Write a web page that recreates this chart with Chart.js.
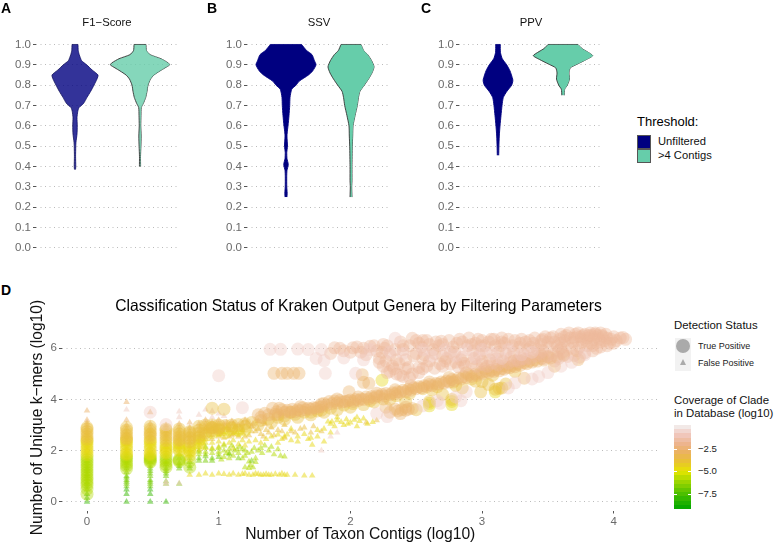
<!DOCTYPE html>
<html>
<head>
<meta charset="utf-8">
<script src="https://cdn.jsdelivr.net/npm/chart.js@4"></script>
<style>
  html, body { margin: 0; padding: 0; background: #fff; }
  body { position: relative; width: 776px; height: 543px; overflow: hidden; font-family: "Liberation Sans", sans-serif; color: #000; }
  canvas { position: absolute; }
  .t { position: absolute; white-space: nowrap; line-height: 1; }
  .letter { font-weight: bold; font-size: 14px; }
  .sub { font-size: 11.3px; transform: translateX(-50%); color: #111; }
  .swatch { position: absolute; box-sizing: border-box; border: 1px solid #555; width: 14px; height: 14px; left: 637px; }
  .key { position: absolute; left: 675px; width: 16px; height: 16.5px; background: #f2f2f2; }
  #colorbar { position: absolute; left: 674px; top: 425px; width: 17px; height: 84px; }
  .barTick { position: absolute; left: 674px; width: 17px; height: 1px; background: linear-gradient(to right, #fff 3px, transparent 3px, transparent 14px, #fff 14px); }
</style>
</head>
<body>
<canvas id="panelA"></canvas>
<canvas id="panelB"></canvas>
<canvas id="panelC"></canvas>
<canvas id="panelD"></canvas>

<div class="t letter" style="left:1px;top:1px">A</div>
<div class="t letter" style="left:207px;top:1px">B</div>
<div class="t letter" style="left:421px;top:1px">C</div>
<div class="t letter" style="left:1px;top:283px">D</div>
<div class="t sub" style="left:107px;top:17px">F1−Score</div>
<div class="t sub" style="left:319px;top:17px">SSV</div>
<div class="t sub" style="left:531px;top:17px">PPV</div>

<div class="t" style="left:637px;top:115px;font-size:13px">Threshold:</div>
<div class="swatch" style="top:135px;background:#000080"></div>
<div class="swatch" style="top:149px;background:#66cdaa"></div>
<div class="t" style="left:658px;top:136px;font-size:11.2px;color:#111">Unfiltered</div>
<div class="t" style="left:658px;top:150px;font-size:11.2px;color:#111">&gt;4 Contigs</div>

<div class="t" style="left:358.500px;top:298px;font-size:15.66px;transform:translateX(-50%)">Classification Status of Kraken Output Genera by Filtering Parameters</div>

<div class="t" style="left:674px;top:320px;font-size:11.4px;color:#111">Detection Status</div>
<div class="key" style="top:338px"></div>
<div class="key" style="top:354.5px"></div>
<div style="position:absolute;left:676px;top:339px;width:14px;height:14px;border-radius:50%;background:#aaa"></div>
<div style="position:absolute;left:680px;top:359px;width:0;height:0;border-left:3.5px solid transparent;border-right:3.5px solid transparent;border-bottom:6px solid #aaa"></div>
<div class="t" style="left:698px;top:342px;font-size:9px;color:#222">True Positive</div>
<div class="t" style="left:698px;top:359px;font-size:9px;color:#222">False Positive</div>

<div class="t" style="left:674px;top:395px;font-size:11.4px;color:#111">Coverage of Clade</div>
<div class="t" style="left:674px;top:407.500px;font-size:11.4px;color:#111">in Database (log10)</div>
<div id="colorbar"></div>
<div class="barTick" style="top:449px"></div>
<div class="barTick" style="top:471px"></div>
<div class="barTick" style="top:494px"></div>
<div class="t" style="left:698px;top:444px;font-size:9.6px;color:#222">−2.5</div>
<div class="t" style="left:698px;top:466px;font-size:9.6px;color:#222">−5.0</div>
<div class="t" style="left:698px;top:489px;font-size:9.6px;color:#222">−7.5</div>

<script>
/* Violin outlines: score level and half width (in category units) */
var aUnfLevel = [.385,.40,.45,.50,.52,.56,.60,.64,.67,.69,.71,.74,.77,.80,.83,.85,.875,.90,.92,.95,.97,1.0];
var aUnfHalf  = [.008,.012,.009,.012,.015,.031,.035,.031,.042,.062,.131,.185,.242,.292,.338,.354,.262,.18,.103,.065,.05,.046];
var aFilLevel = [.40,.45,.50,.55,.60,.65,.69,.71,.74,.77,.80,.83,.85,.87,.885,.90,.91,.93,.95,.97,1.0];
var aFilHalf  = [.009,.008,.014,.018,.012,.015,.02,.051,.088,.108,.123,.162,.215,.308,.385,.457,.431,.323,.154,.1,.092];
var bUnfLevel = [.25,.27,.30,.35,.38,.41,.44,.47,.50,.55,.58,.60,.65,.70,.74,.78,.80,.82,.85,.87,.90,.92,.95,.97,1.0];
var bUnfHalf  = [.015,.018,.012,.011,.015,.035,.015,.012,.023,.015,.023,.031,.046,.057,.062,.088,.154,.205,.346,.411,.462,.438,.4,.318,.24];
var bFilLevel = [.25,.30,.33,.40,.50,.55,.60,.65,.70,.74,.77,.80,.83,.86,.89,.92,.95,.97,1.0];
var bFilHalf  = [.015,.011,.015,.015,.02,.026,.031,.062,.097,.115,.138,.205,.269,.323,.354,.318,.257,.195,.154];
var cUnfLevel = [.455,.50,.55,.60,.65,.70,.74,.77,.80,.82,.83,.87,.90,.93,.96,1.0];
var cUnfHalf  = [.011,.014,.02,.031,.046,.062,.082,.138,.211,.228,.226,.185,.134,.066,.038,.035];
var cFilLevel = [.75,.78,.80,.83,.86,.885,.905,.925,.945,.965,.98,1.0];
var cFilHalf  = [.018,.026,.066,.1,.092,.112,.231,.354,.457,.369,.292,.231];
var scoreTicks = [0,.1,.2,.3,.4,.5,.6,.7,.8,.9,1];

/* Panel D: [log10 contigs, log10 k-mers], grouped by coverage (log10) */
var kmerTicks = [0,2,4,6];
var contigTicks = [0,1,2,3,4];
var paleCov = -0.8, pinkCov = -1.6, orangeCov = -2.6, goldCov = -3.6, yellowCov = -4.6, limeCov = -5.8, leafCov = -6.8, greenCov = -8;

var tpPale = [[1.00,4.93],[1.39,5.96],[1.47,5.96],[1.60,5.97],[1.68,5.95],[1.74,5.60],[1.78,5.95],[1.80,5.52],[1.95,5.62],[2.10,5.55],[2.15,5.95],[2.30,5.85],[2.34,6.39],[2.40,5.80],[2.55,5.95],[2.62,5.70],[2.72,5.95],[2.80,5.70],[2.88,5.95],[2.95,5.65],[3.00,5.95],[3.08,5.80],[3.15,5.60],[3.20,5.95],[3.30,5.75],[3.38,5.85],[2.20,3.45],[2.28,3.33],[2.88,4.30],[3.43,4.90],[.48,3.50],[.60,3.02],[1.18,3.68],[1.81,5.02],[2.04,5.02],
  [2.55,3.75],[2.68,3.85],[2.80,4.10],[2.66,3.95],[2.84,3.95],[3.20,4.45],[3.25,4.65],[3.38,4.80],[3.50,5.05],[3.60,5.30],[3.68,5.45],[3.78,5.75]];
var tpPink = [[1.85,5.80],[1.92,6.00],[2.00,5.85],[2.05,6.05],[2.12,5.75],[2.18,6.10],[2.24,5.85],[2.28,6.10],[2.35,5.55],[2.33,5.20],[2.40,6.10],[2.44,5.25],[2.47,6.39],[2.47,5.00],[2.50,5.80],[2.52,6.20],[2.58,6.30],[2.60,5.50],[2.65,6.25],[2.70,5.70],[2.75,6.30],[2.80,5.45],[2.83,6.35],[2.90,6.40],[2.93,5.90],[2.97,6.35],[3.00,5.50],[3.05,6.25],[3.10,6.10],[3.15,6.40],[3.18,5.80],[3.25,6.30],[3.27,5.55],[3.33,6.25],[3.40,6.40],[3.42,5.95],[3.48,6.45],[3.50,5.70],[3.55,6.25],[3.58,5.90],[3.60,6.55],[3.63,6.30],[3.66,6.60],[3.68,6.00],[3.70,6.40],[3.73,6.60],[3.76,6.25],[3.78,6.55],[3.80,6.10],[3.82,6.60],[3.85,6.35],[3.88,6.50],[3.90,6.25],[3.95,6.40],[4.00,6.45],[4.05,6.40],[4.09,6.35],
  [2.22,5.45],[2.30,5.10],[2.38,4.95],[2.42,5.55],[2.52,5.25],[2.56,5.75],[2.63,5.95],[2.68,5.40],[2.73,5.60],[2.78,6.05],[2.85,5.65],[2.87,5.30],[2.92,6.15],[2.98,5.75],[3.02,6.10],[3.06,5.55],[3.12,5.85],[3.17,6.20],[3.22,5.65],[3.28,6.05],[3.32,5.75],[3.36,6.30],[3.45,6.15],[3.47,5.60],[3.52,6.40],[3.57,6.10],[3.62,5.75],[3.65,6.15],[3.72,5.90],[3.75,6.45],[3.83,6.20],[3.87,6.00],[3.92,6.45],[3.97,6.20],
  [2.54,6.05],[2.67,6.10],[2.79,5.85],[2.95,6.20],[3.09,6.35],[3.23,6.10],[3.37,6.05],[3.50,6.25],[3.55,5.50],[3.60,6.00],[3.67,6.40],[3.74,5.65],[3.80,6.40],[3.86,6.55],[3.93,6.30],
  [1.88,6.02],[1.95,5.90],[2.02,6.02],[2.08,5.85],[2.15,6.08],[2.20,5.90],[2.26,6.00],[2.30,5.75],[2.34,5.95],[2.38,6.25],[2.45,6.10],[2.48,5.70],[2.50,6.30],[2.55,5.60],[2.60,6.15],[2.64,5.80],[2.69,6.28],[2.72,5.50],[2.76,5.85],[2.81,6.20],[2.84,5.55],[2.89,6.10],[2.94,5.60],[2.99,6.10],[3.03,5.85],[3.07,6.35],[3.11,5.60],[3.14,6.10],[3.20,6.35],[3.24,5.85],[3.29,6.20],[3.31,5.60],[3.35,5.95],[3.39,6.20],[3.44,5.80],[3.46,6.35],[3.51,6.05],[3.54,6.45],[3.59,6.35],[3.61,5.85],[3.64,6.50],[3.69,6.25],[3.71,6.55],[3.74,6.05],[3.77,6.50],[3.79,6.30],[3.81,6.50],[3.84,6.10],[3.86,6.60],[3.89,6.35],[3.91,6.50],[3.94,6.55],[3.98,6.35],[4.02,6.30],[4.07,6.42],[2.22,5.60],[2.25,5.30],[2.28,5.05],[2.32,5.30],[2.35,5.00],[2.40,4.90],[2.42,5.20],[2.45,4.85],[2.27,5.50],[2.37,5.40],
  [2.92,5.42],[2.96,5.30],[3.00,5.38],[3.04,5.30],[3.08,5.42],[3.12,5.35],[3.16,5.50],[3.20,5.42],[3.24,5.50],[3.28,5.48],[3.33,5.58],[3.37,5.60],[3.41,5.70],[2.70,5.30],[2.76,5.38],[2.82,5.28],[2.86,5.42],[2.58,5.30],[2.64,5.22],[2.52,5.05],[2.55,5.20],[3.46,5.90],[3.54,5.78],[3.58,5.60],[3.65,5.68],[3.70,5.72],[3.78,5.82],[3.84,5.90],[3.90,6.05],[3.95,6.10],[4.00,6.20],[2.10,6.00],[2.25,6.15],[2.40,5.95],[2.55,6.30],[2.70,6.15],[2.85,6.25],[3.00,6.30],[3.15,6.25],[3.30,6.35],[3.45,6.30],[3.60,6.20],[3.75,6.35],[3.62,6.45],[3.72,6.45],[3.85,6.45],[3.90,6.60],[3.83,6.50]];
var tpOrange = [[1.42,5.02],[1.48,5.02],[1.52,5.02],[1.57,5.02],[1.61,5.02],[2.09,4.97],[2.10,4.67],[2.14,4.63],[1.99,4.30],[2.39,3.60],[2.42,3.58],[2.36,3.55],[2.44,3.62],[3.32,4.83],[3.55,5.30],[3.73,5.56],[2.30,3.50],[2.34,3.62],[2.38,3.45],[2.42,3.70],[2.47,3.65],[2.27,3.70],
  [1.30,3.40],[1.35,3.46],[1.41,3.66],[1.44,3.52],[1.48,3.60],[1.52,3.58],[1.56,3.62],[1.60,3.60],[1.64,3.68],[1.68,3.66],[1.72,3.68],[1.76,3.72],[1.80,3.84],[1.84,3.92],[1.88,3.94],[1.92,3.96],[1.96,3.92],[2.00,3.98],[2.04,4.00],[2.08,4.02],[2.12,4.10],[2.16,4.12],[2.20,4.14],[2.24,4.20],[2.27,4.23],[2.32,4.26],[2.36,4.30],[2.40,4.36],[2.44,4.40],[2.48,4.46],[2.52,4.50],[2.56,4.54],[2.60,4.58],[2.65,4.62],[2.69,4.68],[2.73,4.72],[2.77,4.78],[2.82,4.84],[2.86,4.90],[2.90,4.97],[2.95,5.00],[2.99,5.06],[3.03,5.10],[3.07,5.14],[3.11,5.18],[3.15,5.20],[3.19,5.26],[3.23,5.32],[3.27,5.38],[3.32,5.44],[3.36,5.50],[3.40,5.55],[3.45,5.60],[3.50,5.66],
  [1.32,3.30],[1.38,3.40],[1.43,3.42],[1.50,3.50],[1.54,3.50],[1.58,3.52],[1.62,3.56],[1.66,3.60],[1.70,3.62],[1.74,3.66],[1.78,3.72],[1.82,3.78],[1.86,3.84],[1.90,3.86],[1.94,3.90],[1.98,3.94],[2.02,3.92],[2.06,3.96],[2.10,4.00],[2.14,4.02],[2.18,4.06],[2.22,4.12],[2.26,4.14],[2.30,4.18],[2.34,4.22],[2.38,4.28],[2.42,4.30],[2.46,4.36],[2.50,4.42],[2.54,4.46],[2.58,4.50],[2.62,4.54],[2.67,4.60],[2.71,4.64],[2.75,4.68],[2.79,4.74],[2.84,4.80],[2.88,4.86],[2.92,4.90],[2.96,4.94],[3.00,5.00],[3.05,5.06],[3.09,5.10],[3.13,5.12],[3.17,5.18],[3.21,5.24],[3.25,5.28],[3.29,5.34],[3.34,5.40],[3.38,5.46],[3.42,5.50],[3.47,5.54],[3.52,5.62],[3.57,5.66],[3.62,5.72],
  [1.46,3.66],[1.62,3.72],[1.78,3.82],[1.90,4.02],[2.06,4.10],[2.20,4.24],[2.34,4.38],[2.46,4.54],[2.60,4.68],[2.75,4.86],[2.88,5.04],[3.02,5.20],[3.16,5.32],[3.30,5.50],[3.45,5.70]];
var tpGold = [[3.13,4.43],[3.15,4.45],[3.10,4.40],[2.77,4.00],[2.60,3.92],[2.99,4.30],[1.04,3.62],[.95,3.66],[1.05,2.98],[1.10,3.00],[1.15,3.02],[1.20,3.05],[1.25,3.10],[1.32,3.18],[1.38,3.24],[1.45,3.30],[1.50,3.36],[1.58,3.42],[1.65,3.50],[1.70,3.50],[1.78,3.58],[1.85,3.66],[2.02,3.84],[2.25,4.02],[2.45,4.24],[2.55,4.42],[2.66,4.50],[2.78,4.68],[2.92,4.80],[3.00,4.70],[3.05,4.58],[3.18,4.60],[2.70,4.20],[2.85,4.45],
  [1.40,3.10],[1.50,3.22],[1.60,3.30],[1.70,3.40],[1.80,3.50],[1.90,3.60],[2.00,3.70],[2.10,3.80],[2.18,3.90],[2.30,4.00],[1.20,2.95],[1.10,2.90],[1.00,2.85],[.95,2.90],[1.30,3.00],[1.45,3.40],[1.55,3.50],[1.75,3.55],[1.95,3.78],[2.15,3.95],[2.35,4.15],[2.50,3.60],[2.42,3.90],[2.62,4.38],[2.80,4.55],[2.95,4.72],[3.08,4.95],[3.25,5.10],
  [0,2.90],[.30,2.90],[.48,2.95],[.60,2.85],[.70,2.85],[.78,2.75],[.85,2.95],[.90,3.00],[.95,3.00],[0,2.65],[.30,2.60],[.48,2.65],[.60,2.60],[.70,2.55],[.78,2.50],[.85,2.70],
  [0,2.45],[0,2.55],[0,2.75],[0,2.85],[.30,2.45],[.30,2.50],[.30,2.70],[.30,2.80],[.48,2.50],[.48,2.60],[.48,2.75],[.48,2.85],[.60,2.40],[.60,2.50],[.60,2.70],[.60,2.80],[.70,2.40],[.70,2.45],[.70,2.65],[.70,2.75],[.78,2.35],[.78,2.45],[.78,2.60],[.78,2.70],[.85,2.55],[.85,2.80],[.90,2.70],[.90,2.90],[.95,2.80],[.95,2.90],[1.00,2.90],[1.00,3.00]];
var tpYellow = [[0,2.40],[.30,2.40],[.48,2.40],[.60,2.30],[.70,2.30],[.78,2.20],[.85,2.40],[0,2.15],[.30,2.15],[.48,2.15],[.60,2.10],[.70,2.05],[.78,2.00],[0,1.95],[.30,1.90],[.48,1.90],[.60,1.90],[.90,2.60],[.95,2.70],[1.00,2.80],[1.05,2.70],[1.10,2.85],[1.15,2.80],[1.20,2.80],[2.24,4.75],[2.60,3.75],[2.77,3.80],[3.10,4.30],[2.60,3.85],[2.77,3.92],
  [0,1.85],[0,2.05],[0,2.25],[0,2.35],[.30,1.85],[.30,2.05],[.30,2.25],[.30,2.35],[.48,1.85],[.48,2.05],[.48,2.25],[.48,2.35],[.60,1.95],[.60,2.05],[.60,2.20],[.70,2.00],[.70,2.15],[.70,2.25],[.78,1.80],[.78,1.95],[.78,2.10],[.85,2.20],[.85,2.30],[.85,2.50]];
var tpLime = [[0,1.75],[.30,1.70],[.48,1.70],[.60,1.35],[.70,1.62],[.78,1.35],[0,1.55],[.30,1.50],[.48,1.55],[.78,1.60],[0,1.35],[.30,1.30],[.60,1.65],[0,1.15],[0,.95],[0,.30],[0,.75],[0,.50],[0,.65],[0,.85],[0,1.05],[0,1.25],[0,1.45],[0,1.65],[.30,1.40],[.30,1.60],[.30,1.75],[.48,1.60],[.48,1.65],[.48,1.75],[.60,1.45],[.60,1.55],[.60,1.75],[.70,1.58],[.70,1.66]];

var fpGreen = [[0,0],[.30,0],[.48,0],[.60,0],[0,.15],[.30,.30],[.48,.30],[0,.30],[.30,.48],[.48,.48]];
var fpLeaf = [[0,.48],[0,.60],[0,.70],[0,.78],[0,.90],[0,1.00],[0,1.08],[0,1.20],[0,1.30],[.30,.60],[.30,.70],[.30,.78],[.30,.85],[.30,.95],[.30,1.00],[.30,1.15],[.30,1.30],[.48,.60],[.48,.70],[.48,.78],[.48,.85],[.48,1.00],[.48,1.10],[.48,1.20],[.48,1.30],[.60,.70],[.60,.80],[.60,1.00],[.60,1.10],[.60,1.20],[.60,1.30],[.60,1.45],[.70,.70],[.70,1.30],[.70,1.40],[.70,1.50],[.78,1.30],[.78,1.40],[.78,1.55],[.85,1.60],[.85,1.70],[.90,1.60],[.90,1.78],[.95,1.60],[.95,1.70],[1.00,1.75],[1.08,1.85],[1.15,1.70],[1.25,1.60]];
var fpLime = [[0,1.40],[0,1.50],[0,1.60],[0,1.70],[0,1.80],[.30,1.40],[.30,1.50],[.30,1.60],[.30,1.70],[.30,1.80],[.48,1.40],[.48,1.55],[.48,1.70],[.48,1.80],[.60,1.55],[.60,1.70],[.60,1.85],[.70,1.70],[.70,1.85],[.78,1.70],[.78,1.85],[.85,1.85],[.85,2.00],[.90,1.95],[.95,1.90],[1.00,1.95],[1.04,2.00],[1.08,2.05],[1.11,1.80],[1.15,1.90],[1.18,2.05],[1.20,1.80],[1.23,1.57],[1.23,1.32],[1.26,1.35],[1.20,1.35],[1.25,1.95],[1.28,1.70],[1.30,2.00],[1.32,2.10],[1.38,2.00],[1.42,1.85],[1.47,1.80],[1.50,1.77],[1.00,2.10],[1.04,2.20],[1.08,1.90],[1.12,2.00],[1.16,2.15],[1.20,2.00],[.90,2.15],[.95,2.05],[1.00,1.85],[1.04,1.75],[1.08,1.70],
  [.85,1.95],[.90,1.85],[1.02,1.65],[1.06,1.90],[1.10,2.20],[1.14,2.05],[1.18,1.70],[1.22,1.90],[1.27,2.10],[1.33,1.90],[1.35,2.20],[1.40,2.15],[1.45,2.05],[1.28,1.55],[1.24,1.42]];
var fpYellow = [[.78,1.05],[.85,1.05],[.90,1.10],[.95,1.05],[1.00,1.10],[1.04,1.08],[1.08,1.05],[1.11,1.10],[1.15,1.05],[1.18,1.08],[1.20,1.10],[1.23,1.05],[1.26,1.05],[1.28,1.10],[1.30,1.08],[1.32,1.05],[1.34,1.05],[1.36,1.08],[1.38,1.05],[1.40,1.05],[1.43,1.08],[1.46,1.05],[1.48,1.10],[1.50,1.05],[1.52,1.05],[1.58,1.05],[1.65,1.02],[1.71,1.02],
  [0,1.90],[0,2.00],[0,2.10],[0,2.20],[0,2.30],[.30,1.90],[.30,2.00],[.30,2.10],[.30,2.25],[.48,1.90],[.48,2.00],[.48,2.15],[.48,2.30],[.60,2.00],[.60,2.15],[.60,2.30],[.70,2.00],[.70,2.15],[.70,2.30],[.78,2.00],[.78,2.15],[.78,2.30],[.85,2.15],[.85,2.30],[.90,2.10],[.90,2.30],[.95,2.10],[.95,2.30],[1.00,2.15],[1.00,2.35],[1.04,2.25],[1.08,2.30],[1.11,2.10],[1.11,2.40],[1.15,2.25],[1.18,2.40],[1.20,2.20],[1.23,2.35],[1.28,2.40],[1.32,2.30],[1.36,2.45],[1.40,2.55],[1.45,2.63],[1.48,2.45],[1.52,2.63],[1.55,2.40],[1.60,2.55],[1.71,2.23],[1.68,2.45],[1.75,2.55],[1.80,2.85],[1.83,3.13],[1.86,3.13],[1.90,3.18],[1.93,3.12],[1.97,3.22],[2.00,3.10],[2.03,3.20],[2.07,3.15],[2.10,3.25],[2.13,3.05],[2.17,3.12],[1.88,2.95],[1.95,3.00],[2.05,2.95],
  [1.00,2.62],[1.03,2.72],[1.06,2.66],[1.09,2.78],[1.12,2.70],[1.15,2.62],[1.18,2.80],[1.00,2.80],[1.06,2.86],[1.12,2.90],[1.45,2.30],[1.50,2.55],[1.55,2.85],[1.60,2.35],[1.65,2.65],[1.70,2.50],[1.75,2.80],[1.80,2.35],[1.85,2.70],[1.85,3.05],[1.90,3.30],[1.98,3.05],[2.05,3.30]];
var fpGold = [[0,2.40],[0,2.50],[0,2.60],[0,2.70],[.30,2.40],[.30,2.55],[.30,2.70],[.48,2.45],[.48,2.60],[.48,2.75],[.60,2.45],[.60,2.60],[.60,2.75],[.70,2.45],[.70,2.60],[.70,2.75],[.78,2.45],[.78,2.60],[.78,2.75],[.85,2.45],[.85,2.60],[.85,2.75],[.90,2.45],[.90,2.60],[.90,2.75],[.95,2.45],[.95,2.60],[.95,2.75],[1.00,2.55],[1.00,2.75],[1.04,2.50],[1.04,2.70],[1.08,2.55],[1.08,2.80],[1.11,2.65],[1.15,2.55],[1.15,2.80],[1.18,2.70],[1.23,2.60],[1.28,2.75],[1.32,2.65],[1.36,2.80],[1.40,2.90],[1.45,2.80],[1.50,3.00],[1.55,2.75],[1.62,2.85],[1.70,2.70],[1.78,2.75],[2.12,3.10],[2.20,3.18],
  [.90,2.85],[.95,2.85],[1.02,2.65],[1.06,2.95],[1.10,2.60],[1.14,2.70],[1.20,2.55],[1.25,2.75],[1.30,2.85],[1.34,2.55],[1.38,2.70],[1.42,2.60],[1.48,2.75],[1.50,2.50],[1.58,2.70],[1.65,2.90],[1.72,2.95]];
var fpOrange = [[0,2.80],[0,2.90],[0,3.00],[0,3.10],[0,3.20],[0,3.56],[.30,2.85],[.30,3.00],[.30,3.20],[.30,3.90],[.48,2.90],[.48,3.05],[.48,3.50],[.60,2.90],[.60,3.00],[.70,2.90],[.70,3.05],[.78,2.90],[.78,3.10],[.85,2.90],[.85,3.05],[.90,2.90],[.90,3.05],[.95,2.90],[.95,3.10],[1.00,2.90],[1.00,3.05],[1.04,2.90],[1.04,3.05],[1.08,2.95],[1.11,3.05],[1.15,3.00],[1.18,3.05],[1.22,3.10],[1.26,3.05],[1.30,3.15],[1.34,3.12],[.90,3.20],[1.00,3.20],[1.10,3.15],[1.20,3.20],[1.06,3.10],[1.13,2.95],[1.25,2.95],[1.35,3.05]];
var fpPale = [[.30,3.60],[.70,3.53],[.70,3.30],[.85,3.40],[.90,3.60],[.95,3.55],[.95,3.30],[1.00,3.45],[1.04,3.35],[.60,.78],[.70,.72],[.60,.70],[1.78,2.00],[1.85,2.55],[1.90,2.70]];

/* Terrain colour ramp of the coverage legend */
var rampColors = [[0,166,0],[45,182,0],[99,198,0],[160,214,0],[230,230,0],[232,195,46],[235,178,94],[237,180,142],[240,201,192],[242,242,242]];
var rampMin = -9.2, rampMax = .2;
function covColor(cov, alpha) {
  var p = Math.min(Math.max((cov - rampMin) / (rampMax - rampMin), 0), 1) * (rampColors.length - 1);
  var i = Math.min(Math.floor(p), rampColors.length - 2), t = p - i;
  var c = rampColors[i].map(function (v, k) { return Math.round(v + (rampColors[i + 1][k] - v) * t); });
  return 'rgba(' + c.join(',') + ',' + alpha + ')';
}

/* Binned colour bar */
var barBands = [];
for (var b = 0; b < 20; b++) {
  var bandColor = covColor(rampMax - (rampMax - rampMin) * (b + .5) / 20, 1);
  barBands.push(bandColor + ' ' + (b * 5) + '%', bandColor + ' ' + ((b + 1) * 5) + '%');
}
document.getElementById('colorbar').style.background = 'linear-gradient(to bottom,' + barBands.join(',') + ')';

/* One violin is a left edge filled to a right edge, plus a cap on the top */
function violin(pos, levels, half, fillColor, edgeColor) {
  var edge = { type: 'line', borderColor: edgeColor, borderWidth: .9, pointRadius: 0, tension: .2 };
  var last = levels.length - 1;
  return [
    Object.assign({}, edge, { data: levels.map(function (v, i) { return { x: pos - half[i], y: v }; }), fill: '+1', backgroundColor: fillColor }),
    Object.assign({}, edge, { data: levels.map(function (v, i) { return { x: pos + half[i], y: v }; }), fill: false }),
    Object.assign({}, edge, { data: [{ x: pos - half[last], y: levels[last] }, { x: pos + half[last], y: levels[last] }], fill: false, tension: 0 })
  ];
}

function violinPanel(id, left, datasets) {
  var cv = document.getElementById(id);
  cv.width = 185; cv.height = 267;
  cv.style.left = left + 'px'; cv.style.top = '0px';
  return new Chart(cv, {
    type: 'line',
    data: { datasets: datasets },
    options: {
      indexAxis: 'y',
      responsive: false,
      animation: false,
      events: [],
      layout: { padding: { top: 34.3, bottom: 0, right: 6 } },
      plugins: { legend: { display: false }, tooltip: { enabled: false } },
      scales: {
        x: { type: 'linear', display: false, min: .4, max: 2.6 },
        y: {
          type: 'linear', min: -.05, max: 1.05,
          afterBuildTicks: function (s) { s.ticks = scoreTicks.map(function (v) { return { value: v }; }); },
          afterFit: function (s) { s.width = 36; },
          ticks: { color: '#6a6a6a', font: { family: 'Liberation Sans', size: 11.5 }, padding: 2, callback: function (v) { return v.toFixed(1); } },
          border: { display: false, dash: [1, 3.5] },
          grid: { color: '#bbbbbb', lineWidth: 1, tickLength: 3, tickColor: '#555', tickBorderDash: [] }
        }
      }
    }
  });
}

var navy = '#000080', aqua = '#66cdaa', edgeDark = '#333333';
violinPanel('panelA', 0, violin(1, aUnfLevel, aUnfHalf, 'rgba(0,0,128,.8)', 'rgba(20,20,90,.9)').concat(violin(2, aFilLevel, aFilHalf, 'rgba(102,205,170,.8)', edgeDark)));
violinPanel('panelB', 211, violin(1, bUnfLevel, bUnfHalf, navy, navy).concat(violin(2, bFilLevel, bFilHalf, aqua, edgeDark)));
violinPanel('panelC', 423, violin(1, cUnfLevel, cUnfHalf, navy, navy).concat(violin(2, cFilLevel, cFilHalf, aqua, edgeDark)));

/* Panel D */
function tpSet(points, cov) {
  return { data: points, pointStyle: 'circle', pointRadius: 6.5, borderWidth: 0, pointBorderWidth: 0, backgroundColor: covColor(cov, .4) };
}
function fpSet(points, cov) {
  return { data: points, pointStyle: 'triangle', pointRadius: 3.8, borderWidth: 0, pointBorderWidth: 0, backgroundColor: covColor(cov, .5) };
}
var cvD = document.getElementById('panelD');
cvD.width = 665; cvD.height = 243;
cvD.style.left = '0px'; cvD.style.top = '300px';
new Chart(cvD, {
  type: 'scatter',
  data: {
    datasets: [
      tpSet(tpPale, paleCov), tpSet(tpPink, pinkCov), tpSet(tpOrange, orangeCov), tpSet(tpGold, goldCov), tpSet(tpYellow, yellowCov), tpSet(tpLime, limeCov),
      fpSet(fpPale, paleCov), fpSet(fpGreen, greenCov), fpSet(fpLeaf, leafCov), fpSet(fpLime, limeCov), fpSet(fpYellow, yellowCov), fpSet(fpGold, goldCov), fpSet(fpOrange, orangeCov)
    ]
  },
  options: {
    responsive: false,
    animation: false,
    events: [],
    layout: { padding: { top: 24.5, right: 5, bottom: 0 } },
    plugins: { legend: { display: false }, tooltip: { enabled: false } },
    scales: {
      x: {
        type: 'linear', min: -.19, max: 4.34,
        afterBuildTicks: function (s) { s.ticks = contigTicks.map(function (v) { return { value: v }; }); },
        afterFit: function (s) { s.height = 32.5; },
        title: { display: true, text: 'Number of Taxon Contigs (log10)', color: '#111', font: { family: 'Liberation Sans', size: 15.7, lineHeight: 1 }, padding: { top: 0, bottom: 0 } },
        ticks: { color: '#6a6a6a', font: { family: 'Liberation Sans', size: 11.5 }, padding: 1, maxRotation: 0 },
        border: { display: false },
        grid: { drawOnChartArea: false, tickLength: 3, tickColor: '#555' }
      },
      y: {
        type: 'linear', min: -.34, max: 6.93,
        afterBuildTicks: function (s) { s.ticks = kmerTicks.map(function (v) { return { value: v }; }); },
        afterFit: function (s) { s.width = 62; },
        title: { display: true, text: 'Number of Unique k−mers (log10)', color: '#111', font: { family: 'Liberation Sans', size: 15.6 }, padding: { top: 28, bottom: 0 } },
        ticks: { color: '#6a6a6a', font: { family: 'Liberation Sans', size: 11.5 }, padding: 2 },
        border: { display: false, dash: [1, 3.5] },
        grid: { color: '#bbbbbb', lineWidth: 1, tickLength: 3, tickColor: '#555', tickBorderDash: [] }
      }
    }
  }
});
</script>
</body>
</html>
